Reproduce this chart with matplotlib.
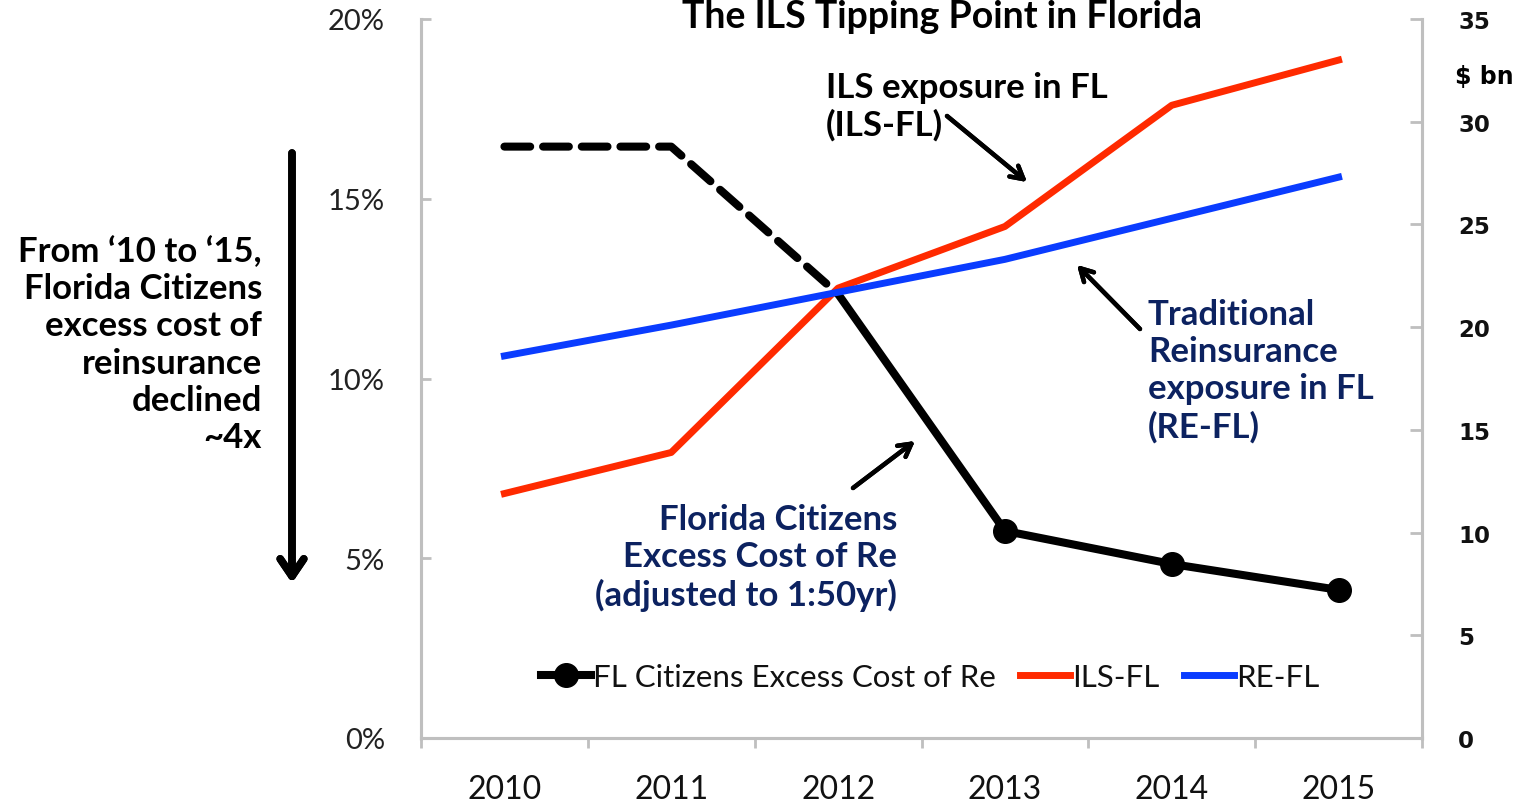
import numpy as np
import matplotlib.pyplot as plt
from matplotlib.lines import Line2D

# ---- data ----
years = ["2010", "2011", "2012", "2013", "2014", "2015"]
citizens_cost = [16.45, 16.45, 12.35, 5.76, 4.84, 4.12]   # % (left axis)
ils_fl = [11.9, 13.9, 21.9, 24.9, 30.8, 33.0]              # $ bn (right axis)
re_fl = [18.6, 20.1, 21.7, 23.3, 25.3, 27.3]               # $ bn (right axis)
left_ticks = [0, 5, 10, 15, 20]
right_ticks = [0, 5, 10, 15, 20, 25, 30, 35]

W, H = 1524, 804
NAVY = "#0c2260"
GRID = "#bfbfbf"
TXT_FONT = ["Lato", "DejaVu Sans"]


def fp(x, y):
    """pixel position (from top-left) -> figure fraction"""
    return (x / W, 1 - y / H)


fig = plt.figure(figsize=(W / 100, H / 100), dpi=100)
ax = fig.add_axes([421 / W, 65 / H, (1422 - 421) / W, (739 - 20) / H])
ax2 = ax.twinx()

x = np.arange(len(years))

# black series: dashed for the early years, solid with markers after
ax.plot(x[:3], citizens_cost[:3], color="black", lw=5.8, ls=(0, (3.2, 1.6)),
        dash_capstyle="round")
ax.plot(x[2:], citizens_cost[2:], color="black", lw=5.8, marker="o", ms=17,
        markevery=[1, 2, 3])

ax2.plot(x, ils_fl, color="#ff2a00", lw=5)
ax2.plot(x, re_fl, color="#0a3cff", lw=5)

ax.set_xlim(-0.5, 5.5)
ax.set_ylim(0, 20)
ax2.set_ylim(0, 35)

ax.set_xticks(x)
ax.set_xticklabels(years)
ax.set_xticks(np.arange(-0.5, 6, 1), minor=True)
ax.tick_params(axis="x", which="major", length=0, pad=26, labelsize=23,
               labelcolor="#111111")
ax.tick_params(axis="x", which="minor", length=7, width=2, color=GRID,
               direction="out")
for lab in ax.get_xticklabels():
    lab.set_family(TXT_FONT)

ax.set_yticks(left_ticks)
ax.set_yticklabels([f"{t}%" for t in left_ticks])
ax.tick_params(axis="y", length=7, width=2, color=GRID, direction="in",
               pad=26, labelsize=21, labelcolor="#222222")
for lab in ax.get_yticklabels():
    lab.set_family(TXT_FONT)

ax2.set_yticks(right_ticks)
ax2.tick_params(axis="y", length=9, width=2, color=GRID, direction="in",
                pad=26, labelsize=16.5, labelcolor="#111111")
for lab in ax2.get_yticklabels():
    lab.set_family(["DejaVu Sans"])
    lab.set_fontweight("bold")

for a in (ax, ax2):
    a.spines["top"].set_visible(False)
    for s in ("left", "right", "bottom"):
        a.spines[s].set_color(GRID)
        a.spines[s].set_linewidth(2.2)
ax2.patch.set_visible(False)

# title sits at the very top edge
fig.text(*fp(942, 0), "The ILS Tipping Point in Florida", ha="center",
         va="top", fontsize=27, fontweight="bold", family=TXT_FONT)
fig.text(*fp(1455, 77), "$ bn", ha="left", va="center", fontsize=17,
         fontweight="bold", family=["DejaVu Sans"])

# legend
handles = [
    Line2D([], [], color="black", lw=5.8, marker="o", ms=17),
    Line2D([], [], color="#ff2a00", lw=5),
    Line2D([], [], color="#0a3cff", lw=5),
]
leg = ax.legend(handles, ["FL Citizens Excess Cost of Re", "ILS-FL", "RE-FL"],
                loc="center", bbox_to_anchor=fp(930, 678),
                bbox_transform=fig.transFigure, ncol=3, frameon=False,
                handlelength=1.6, handletextpad=0.05, columnspacing=0.8,
                prop={"family": TXT_FONT, "size": 22.5})
for t in leg.get_texts():
    t.set_color("#111111")

# annotations
ann = dict(fontsize=25, fontweight="bold", family=TXT_FONT, linespacing=1.2)
fig.text(*fp(262, 345), "From \u201810 to \u201815,\nFlorida Citizens\nexcess cost of\n"
         "reinsurance\ndeclined\n~4x", ha="right", va="center", color="black", **ann)
fig.text(*fp(826, 107), "ILS exposure in FL\n(ILS-FL)", ha="left",
         va="center", color="black", **ann)
fig.text(*fp(1148, 371), "Traditional\nReinsurance\nexposure in FL\n(RE-FL)",
         ha="left", va="center", color=NAVY, **ann)
fig.text(*fp(897, 558), "Florida Citizens\nExcess Cost of Re\n(adjusted to 1:50yr)",
         ha="right", va="center", color=NAVY, **ann)

arr = dict(arrowstyle="->,head_length=0.9,head_width=0.5", color="black",
           lw=3.2, shrinkA=0, shrinkB=0)
fig.add_artist(plt.annotate("", xy=fp(1027, 183), xytext=fp(947, 117),
                            xycoords="figure fraction", arrowprops=arr))
fig.add_artist(plt.annotate("", xy=fp(1077, 266), xytext=fp(1140, 330),
                            xycoords="figure fraction", arrowprops=arr))
fig.add_artist(plt.annotate("", xy=fp(915, 442), xytext=fp(853, 489),
                            xycoords="figure fraction", arrowprops=arr))
big = dict(arrowstyle="->,head_length=1.25,head_width=0.85", color="black",
           lw=5.5, shrinkA=0, shrinkB=0)
fig.add_artist(plt.annotate("", xy=fp(292, 584), xytext=fp(292, 154),
                            xycoords="figure fraction", arrowprops=big))

fig.savefig("out.png", dpi=100)
